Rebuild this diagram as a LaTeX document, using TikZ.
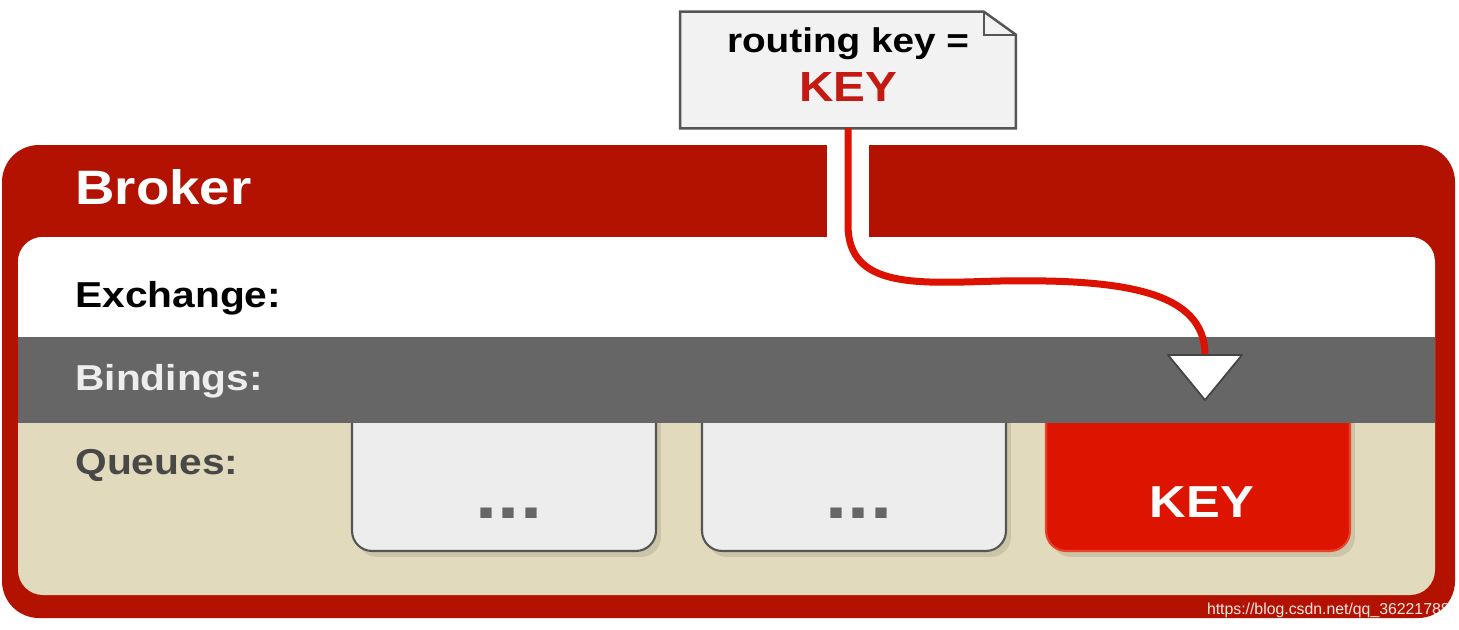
\documentclass[tikz,border=0pt]{standalone}
\usepackage{fontspec}
\setmainfont[FakeStretch=1.13]{Liberation Sans}
\newfontfamily\markfont{Liberation Sans}
\usetikzlibrary{positioning,shadows}
\definecolor{brokred}{HTML}{B41200}
\definecolor{linered}{HTML}{DD1100}
\definecolor{keyred}{HTML}{C41A12}
\definecolor{qred}{HTML}{DD1500}
\definecolor{qedge}{HTML}{E8442A}
\definecolor{beige}{HTML}{E2DABD}
\definecolor{bindgrey}{HTML}{666666}
\definecolor{boxgrey}{HTML}{EDEDED}
\definecolor{notegrey}{HTML}{F2F2F2}
\definecolor{edgegrey}{HTML}{555555}
\definecolor{shadowc}{HTML}{CBC4A8}
\begin{document}
\begin{tikzpicture}[x=0.02cm,y=-0.02cm,
    lbl/.style={anchor=base west,inner sep=0pt,font=\bfseries\fontsize{20.5}{24}\selectfont},
    queue/.style={draw=edgegrey,line width=1.2pt,fill=boxgrey,rounded corners=0.4cm,
        minimum width=6.08cm,minimum height=3.4cm,anchor=south,
        drop shadow={fill=shadowc,opacity=1,shadow xshift=0.1cm,shadow yshift=-0.12cm}},
    dotsty/.style={anchor=base,inner sep=0pt,text=bindgrey,font=\bfseries\fontsize{40}{40}\selectfont},
    flow/.style={draw=linered,line width=0.14cm},
    tristy/.style={fill=white,draw=edgegrey!80!black,line width=1pt,line join=round}]
    \useasboundingbox (0,0) rectangle (1459,629);

    \fill[brokred,rounded corners=0.74cm] (2,145) rectangle (1455,618);
    \fill[beige,rounded corners=0.5cm] (18,237) rectangle (1435,595);

    \node[queue] (q1) at (504,552) {};
    \node[queue] (q2) at (854,552) {};
    \node[queue,draw=qedge,fill=qred] (q3) at (1198,552) {};

    \begin{scope}
        \clip[rounded corners=0.5cm] (18,237) rectangle (1435,595);
        \fill[white] (18,237) rectangle (1435,337);
        \fill[bindgrey] (18,337) rectangle (1435,423);
    \end{scope}
    \fill[white] (827,143) rectangle (869,237);

    \node[anchor=base west,inner sep=0pt,text=white,font=\bfseries\fontsize{27.5}{30}\selectfont] (broker) at (75,204) {Broker};
    \node[lbl] (exch) at (75,307) {Exchange:};
    \node[lbl,text=boxgrey] (bind) at (75,390) {Bindings:};
    \node[lbl,text=edgegrey!85!black] (queues) at (75,474) {Queues:};

    \node[dotsty] (d1) at ([xshift=0.1cm,yshift=0.68cm]q1.south) {...};
    \node[dotsty] (d2) at ([xshift=0.1cm,yshift=0.68cm]q2.south) {...};
    \node[anchor=base,inner sep=0pt,text=white,font=\bfseries\fontsize{25.5}{28}\selectfont] (qkey) at ([xshift=0.08cm,yshift=0.7cm]q3.south) {KEY};

    \node[minimum width=6.7cm,minimum height=2.32cm,inner sep=0pt] (note) at (848,70) {};
    \draw[edgegrey,line width=1.4pt,fill=notegrey] (note.north west) -- ([xshift=-0.64cm]note.north east)
        -- ([yshift=-0.46cm]note.north east) -- (note.south east) -- (note.south west) -- cycle;
    \draw[edgegrey,line width=1pt] ([xshift=-0.64cm]note.north east) -- ([xshift=-0.64cm,yshift=-0.46cm]note.north east)
        -- ([yshift=-0.46cm]note.north east);
    \node[anchor=base,inner sep=0pt,font=\bfseries\fontsize{19.5}{22}\selectfont] (rk) at (848,52) {routing key =};
    \node[anchor=base,inner sep=0pt,text=keyred,font=\bfseries\fontsize{24}{26}\selectfont] (rkey) at (848,101) {KEY};

    \coordinate (tip) at (1205,355);
    \draw[flow] (note.south) -- (848,225) .. controls (848,290) and (920,283) .. (1000,281)
        .. controls (1120,279) and (1205,290) .. (tip);
    \draw[tristy] (1168,355) -- (1242,355) -- (1205,400) -- cycle;

    \node[anchor=base east,inner sep=0pt,text=white,opacity=0.9,font=\markfont\fontsize{9}{10}\selectfont] (mark) at (1450,614) {https://blog.csdn.net/qq\_36221788};
\end{tikzpicture}
\end{document}
